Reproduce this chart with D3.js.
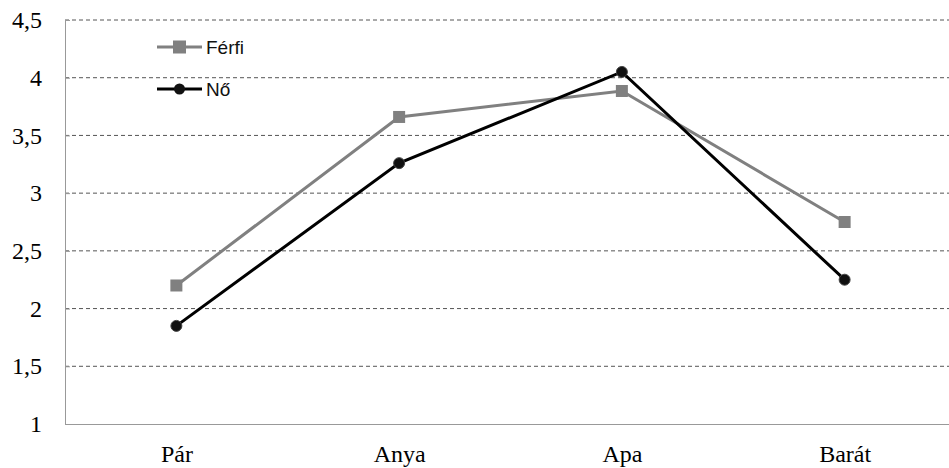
<!DOCTYPE html>
<html>
<head>
<meta charset="utf-8">
<script src="https://cdn.jsdelivr.net/npm/d3@7"></script>
<style>
  body { margin: 0; background: #fff; }
</style>
</head>
<body>
<svg></svg>
<script>
// Data
const categories = ["Pár", "Anya", "Apa", "Barát"];
const ferfi = [2.2, 3.66, 3.885, 2.75];
const no = [1.85, 3.26, 4.05, 2.25];
const yTicks = [1, 1.5, 2, 2.5, 3, 3.5, 4, 4.5];

const width = 949, height = 468;
const svg = d3.select("svg")
    .attr("width", width)
    .attr("height", height);

const plotLeft = 65, plotRight = 956, plotTop = 20, plotBottom = 424;

// Scales
const xScale = d3.scalePoint()
    .domain(categories)
    .range([plotLeft, plotRight])
    .padding(0.5);

const yScale = d3.scaleLinear()
    .domain([1, 4.5])
    .range([plotBottom, plotTop]);

const fmt = d => String(d).replace(".", ",");

// Gridlines
svg.append("g")
    .selectAll("line")
    .data(yTicks.filter(d => d > 1))
    .enter()
    .append("line")
    .attr("x1", plotLeft)
    .attr("x2", plotRight)
    .attr("y1", d => yScale(d))
    .attr("y2", d => yScale(d))
    .attr("stroke", "#555")
    .attr("stroke-width", 1)
    .attr("stroke-dasharray", "4,3");

// Axes
const yAxis = svg.append("g")
    .attr("transform", `translate(${plotLeft}, 0)`)
    .call(d3.axisLeft(yScale).tickValues(yTicks).tickSize(0).tickPadding(23).tickFormat(fmt));
yAxis.select(".domain").attr("stroke", "#999");
yAxis.selectAll("text")
    .attr("font-family", "Liberation Serif, Times New Roman, serif")
    .attr("font-size", 24)
    .attr("fill", "#000");
// small inward ticks
yAxis.selectAll(".tick line")
    .attr("x2", 5)
    .attr("stroke", "#999");

const xAxis = svg.append("g")
    .attr("transform", `translate(0, ${plotBottom})`)
    .call(d3.axisBottom(xScale).tickSize(0).tickPadding(21));
xAxis.select(".domain").attr("stroke", "#999");
xAxis.selectAll("text")
    .attr("font-family", "Liberation Serif, Times New Roman, serif")
    .attr("font-size", 24)
    .attr("fill", "#000");

// Lines
const line = d3.line()
    .x((d, i) => xScale(categories[i]))
    .y(d => yScale(d));

svg.append("path")
    .datum(ferfi)
    .attr("d", line)
    .attr("fill", "none")
    .attr("stroke", "#808080")
    .attr("stroke-width", 3);

svg.append("path")
    .datum(no)
    .attr("d", line)
    .attr("fill", "none")
    .attr("stroke", "#000")
    .attr("stroke-width", 3);

// Markers
svg.selectAll("rect.ferfi")
    .data(ferfi)
    .enter()
    .append("rect")
    .attr("class", "ferfi")
    .attr("x", (d, i) => xScale(categories[i]) - 6)
    .attr("y", d => yScale(d) - 6)
    .attr("width", 12)
    .attr("height", 12)
    .attr("fill", "#808080");

svg.selectAll("circle.no")
    .data(no)
    .enter()
    .append("circle")
    .attr("class", "no")
    .attr("cx", (d, i) => xScale(categories[i]))
    .attr("cy", d => yScale(d))
    .attr("r", 5.5)
    .attr("fill", "#111")
    .attr("stroke", "#444")
    .attr("stroke-width", 1);

// Legend
const legend = [
    { name: "Férfi", color: "#808080", shape: "rect", y: 47 },
    { name: "Nő", color: "#000", shape: "circle", y: 89 }
];
legend.forEach(l => {
    svg.append("line")
        .attr("x1", 157).attr("x2", 202)
        .attr("y1", l.y).attr("y2", l.y)
        .attr("stroke", l.color)
        .attr("stroke-width", 3);
    if (l.shape === "rect") {
        svg.append("rect")
            .attr("x", 173).attr("y", l.y - 6.5)
            .attr("width", 13).attr("height", 13)
            .attr("fill", l.color);
    } else {
        svg.append("circle")
            .attr("cx", 179.5).attr("cy", l.y)
            .attr("r", 5.5)
            .attr("fill", "#111");
    }
    svg.append("text")
        .attr("x", 206)
        .attr("y", l.y + 7)
        .attr("font-family", "Liberation Sans, Arial, sans-serif")
        .attr("font-size", 19)
        .attr("fill", "#111")
        .text(l.name);
});
</script>
</body>
</html>
